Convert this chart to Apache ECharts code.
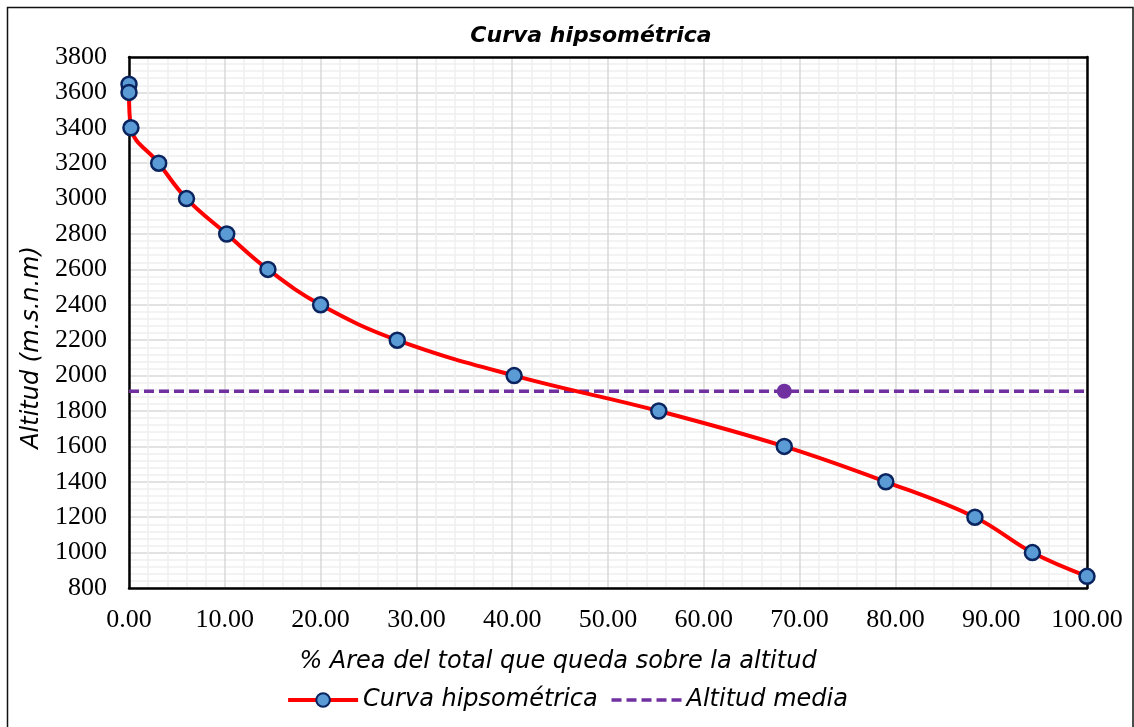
<!DOCTYPE html>
<html>
<head>
<meta charset="utf-8">
<title>Curva hipsométrica</title>
<script src="https://cdn.jsdelivr.net/npm/echarts@6/dist/echarts.min.js"></script>
<style>
  html, body { margin: 0; padding: 0; background: #fff; }
  #chart { width: 1134px; height: 727px; }
</style>
</head>
<body>
<div id="chart"></div>
<script>
// Hypsometric curve: % of basin area lying above each altitude
const areaPct = [0, 0, 0.2, 3.1, 6.0, 10.2, 14.5, 20.0, 28.0, 40.2, 55.3, 68.4, 79.0, 88.3, 94.3, 100];
const altitud = [3646, 3600, 3400, 3200, 3000, 2800, 2600, 2400, 2200, 2000, 1800, 1600, 1400, 1200, 1000, 866];

// Mean altitude of the basin
const altitudMedia = 1912;
const mediaX = [0, 100];
const mediaPointX = 68.4;

const xTicks = { min: 0, max: 100, interval: 10 };
const yTicks = { min: 800, max: 3800, interval: 200 };

const comic = "'Comic Sans MS', 'DejaVu Sans', sans-serif";
const serif = "'Liberation Serif', 'Times New Roman', serif";

const curveData = areaPct.map((x, i) => [x, altitud[i]]);
const mediaData = mediaX.map(x => [x, altitudMedia]);

const chart = echarts.init(document.getElementById('chart'), null, { renderer: 'canvas' });

const frameAxis = (extra) => Object.assign({
  type: 'value',
  gridIndex: 0,
  axisLine: { show: true, onZero: false, lineStyle: { color: '#000', width: 2.5 } },
  axisTick: { show: false },
  axisLabel: { show: false },
  splitLine: { show: false },
  z: 3
}, extra);

chart.setOption({
  animation: false,
  backgroundColor: '#fff',
  title: {
    text: 'Curva hipsométrica',
    left: 586,
    textAlign: 'center',
    top: 20,
    textStyle: { fontFamily: comic, fontStyle: 'italic', fontWeight: 'bold', fontSize: 22, color: '#000' }
  },
  graphic: [{
    type: 'rect',
    shape: { x: 7.5, y: 7.5, width: 1125.5, height: 730 },
    style: { fill: 'none', stroke: '#111', lineWidth: 1.5 },
    silent: true,
    z: 0
  }],
  legend: {
    data: [
      { name: 'Curva hipsométrica', lineStyle: { width: 4 } },
      { name: 'Altitud media', itemStyle: { opacity: 0 }, lineStyle: { width: 3.5 } }
    ],
    bottom: 10,
    left: 'center',
    itemWidth: 70,
    itemHeight: 17,
    itemGap: 12,
    textStyle: { fontFamily: comic, fontStyle: 'italic', fontSize: 24, color: '#000' }
  },
  grid: { left: 129, right: 47, top: 57, bottom: 139, containLabel: false },
  xAxis: [
    {
      type: 'value',
      min: xTicks.min, max: xTicks.max, interval: xTicks.interval,
      name: '% Area del total que queda sobre la altitud',
      nameLocation: 'middle',
      nameGap: 62,
      nameTextStyle: { fontFamily: comic, fontStyle: 'italic', fontSize: 24, color: '#000', padding: [0, 100, 0, 0] },
      axisLine: { show: false },
      axisTick: { show: false },
      axisLabel: { margin: 19, fontFamily: serif, fontSize: 26, color: '#000', formatter: v => v.toFixed(2) },
      splitLine: { show: true, lineStyle: { color: '#d9d9d9', width: 1.5 } },
      minorTick: { show: false, splitNumber: 5 },
      minorSplitLine: { show: true, lineStyle: { color: '#efefef', width: 1.5 } }
    },
    frameAxis({ position: 'bottom', min: xTicks.min, max: xTicks.max }),
    frameAxis({ position: 'top', min: xTicks.min, max: xTicks.max })
  ],
  yAxis: [
    {
      type: 'value',
      min: yTicks.min, max: yTicks.max, interval: yTicks.interval,
      name: 'Altitud (m.s.n.m)',
      nameLocation: 'middle',
      nameGap: 78,
      nameTextStyle: { fontFamily: comic, fontStyle: 'italic', fontSize: 24, color: '#000', padding: [0, 50, 0, 0] },
      axisLine: { show: false },
      axisTick: { show: false },
      axisLabel: { margin: 22, fontFamily: serif, fontSize: 26, color: '#000', formatter: v => String(v) },
      splitLine: { show: true, lineStyle: { color: '#d9d9d9', width: 1.5 } },
      minorTick: { show: false, splitNumber: 5 },
      minorSplitLine: { show: true, lineStyle: { color: '#efefef', width: 1.5 } }
    },
    frameAxis({ position: 'left', min: yTicks.min, max: yTicks.max }),
    frameAxis({ position: 'right', min: yTicks.min, max: yTicks.max })
  ],
  series: [
    {
      name: 'Curva hipsométrica',
      type: 'line',
      xAxisIndex: 0, yAxisIndex: 0,
      data: curveData,
      smooth: 0.4,
      symbol: 'circle',
      symbolSize: 15,
      lineStyle: { color: '#ff0000', width: 4 },
      itemStyle: { color: '#5b9bd5', borderColor: '#0a2460', borderWidth: 2.5 },
      z: 5
    },
    {
      name: 'Altitud media',
      type: 'line',
      xAxisIndex: 0, yAxisIndex: 0,
      data: mediaData,
      symbol: 'none',
      lineStyle: { color: '#7030a0', width: 3.5, type: [10, 5] },
      itemStyle: { color: '#7030a0' },
      z: 4
    },
    {
      name: 'Altitud media punto',
      type: 'scatter',
      xAxisIndex: 0, yAxisIndex: 0,
      data: [[mediaPointX, altitudMedia]],
      symbol: 'circle',
      symbolSize: 15,
      itemStyle: { color: '#7030a0', opacity: 1 },
      z: 4
    }
  ]
});
</script>
</body>
</html>
